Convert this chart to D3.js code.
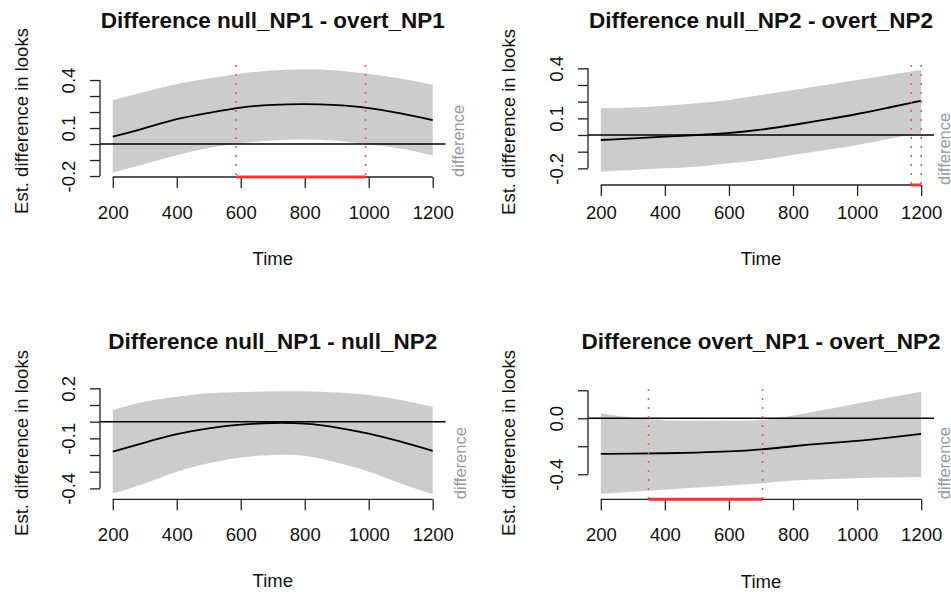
<!DOCTYPE html>
<html>
<head>
<meta charset="utf-8">
<script src="https://cdn.jsdelivr.net/npm/d3@7"></script>
<style>
  html, body { margin: 0; padding: 0; background: #fff; }
  svg { display: block; font-family: "Liberation Sans", Arial, Helvetica, sans-serif; }
</style>
</head>
<body>
<svg id="chart" width="951" height="592"></svg>
<script>
// ---------------- DATA ----------------
const times = [200, 300, 400, 500, 600, 700, 800, 900, 1000, 1100, 1200];
const xTicks = [200, 400, 600, 800, 1000, 1200];

// Panel 1: null_NP1 - overt_NP1
const fit1   = [0.046, 0.100, 0.155, 0.195, 0.228, 0.245, 0.250, 0.243, 0.225, 0.192, 0.150];
const upper1 = [0.275, 0.327, 0.375, 0.410, 0.440, 0.460, 0.467, 0.460, 0.440, 0.410, 0.370];
const lower1 = [-0.178, -0.125, -0.070, -0.025, 0.005, 0.022, 0.028, 0.020, -0.002, -0.028, -0.072];
const sig1 = [585, 990];
const yTicks1 = [-0.2, -0.1, 0, 0.1, 0.2, 0.3, 0.4];
const yTickLabels1 = ["-0.2", "", "", "0.1", "", "", "0.4"];

// Panel 2: null_NP2 - overt_NP2
const fit2   = [-0.030, -0.020, -0.010, 0.000, 0.012, 0.032, 0.060, 0.092, 0.126, 0.165, 0.205];
const upper2 = [0.160, 0.165, 0.175, 0.190, 0.210, 0.240, 0.270, 0.300, 0.330, 0.360, 0.390];
const lower2 = [-0.220, -0.210, -0.200, -0.190, -0.170, -0.150, -0.120, -0.090, -0.060, -0.022, 0.008];
const sig2 = [1169, 1200];
const yTicks2 = [-0.2, -0.1, 0, 0.1, 0.2, 0.3, 0.4];
const yTickLabels2 = ["-0.2", "", "", "0.1", "", "", "0.4"];

// Panel 3: null_NP1 - null_NP2
const fit3   = [-0.180, -0.125, -0.075, -0.040, -0.018, -0.008, -0.012, -0.035, -0.072, -0.120, -0.175];
const upper3 = [0.070, 0.120, 0.150, 0.170, 0.178, 0.182, 0.182, 0.175, 0.160, 0.130, 0.090];
const lower3 = [-0.430, -0.370, -0.300, -0.250, -0.215, -0.200, -0.205, -0.245, -0.300, -0.370, -0.435];
const sig3 = null;
const yTicks3 = [-0.4, -0.3, -0.2, -0.1, 0, 0.1, 0.2];
const yTickLabels3 = ["-0.4", "", "", "-0.1", "", "", "0.2"];

// Panel 4: overt_NP1 - overt_NP2
const fit4   = [-0.255, -0.253, -0.250, -0.245, -0.237, -0.222, -0.200, -0.180, -0.162, -0.138, -0.112];
const upper4 = [0.036, 0.003, -0.015, -0.017, -0.017, -0.013, 0.020, 0.060, 0.105, 0.148, 0.190];
const lower4 = [-0.540, -0.525, -0.510, -0.495, -0.480, -0.465, -0.445, -0.435, -0.428, -0.424, -0.420];
const sig4 = [349, 705];
const yTicks4 = [-0.4, -0.2, 0, 0.2];
const yTickLabels4 = ["-0.4", "", "0.0", ""];

const titles = [
  "Difference null_NP1 - overt_NP1",
  "Difference null_NP2 - overt_NP2",
  "Difference null_NP1 - null_NP2",
  "Difference overt_NP1 - overt_NP2"
];
const xLabel = "Time";
const yLabel = "Est. difference in looks";
const sideLabel = "difference";

// ---------------- LAYOUT ----------------
const panels = [
  { title: titles[0], fit: fit1, upper: upper1, lower: lower1, sig: sig1, yTicks: yTicks1, yLabels: yTickLabels1,
    box: { l: 100, r: 445.5, t: 65, b: 177 }, yDom: [-0.206, 0.494],
    titleY: 20.5, xLabY: 212, timeY: 258, ylabX: 21, ylabY: 121, sideX: 458 },
  { title: titles[1], fit: fit2, upper: upper2, lower: lower2, sig: sig2, yTicks: yTicks2, yLabels: yTickLabels2,
    box: { l: 588, r: 934, t: 65, b: 185 }, yDom: [-0.30, 0.42],
    titleY: 20.5, xLabY: 212, timeY: 258, ylabX: 508, ylabY: 122, sideX: 943.5 },
  { title: titles[2], fit: fit3, upper: upper3, lower: lower3, sig: sig3, yTicks: yTicks3, yLabels: yTickLabels3,
    box: { l: 100, r: 445.5, t: 387, b: 499.3 }, yDom: [-0.4655, 0.208],
    titleY: 341.7, xLabY: 535, timeY: 580, ylabX: 21.5, ylabY: 443, sideX: 460 },
  { title: titles[3], fit: fit4, upper: upper4, lower: lower4, sig: sig4, yTicks: yTicks4, yLabels: yTickLabels4,
    box: { l: 588, r: 934, t: 389, b: 499.3 }, yDom: [-0.579, 0.209],
    titleY: 341.7, xLabY: 535, timeY: 581, ylabX: 508, ylabY: 443, sideX: 943.5 }
];

const svg = d3.select("#chart");
svg.append("rect").attr("width", 951).attr("height", 592).attr("fill", "#fff");

const FS = 18.5;

panels.forEach(p => {
  const x = d3.scaleLinear().domain([160, 1240]).range([p.box.l, p.box.r]);
  const y = d3.scaleLinear().domain(p.yDom).range([p.box.b, p.box.t]);
  const g = svg.append("g");
  const rows = times.map((t, i) => ({ t, f: p.fit[i], u: p.upper[i], lo: p.lower[i] }));

  // confidence band
  const area = d3.area().x(d => x(d.t)).y0(d => y(d.lo)).y1(d => y(d.u)).curve(d3.curveNatural);
  g.append("path").datum(rows).attr("d", area).attr("fill", "#cccccc");

  // fitted difference
  const line = d3.line().x(d => x(d.t)).y(d => y(d.f)).curve(d3.curveNatural);
  g.append("path").datum(rows).attr("d", line).attr("fill", "none")
    .attr("stroke", "#000").attr("stroke-width", 1.8);

  // zero line
  g.append("line").attr("x1", p.box.l).attr("x2", p.box.r)
    .attr("y1", y(0)).attr("y2", y(0)).attr("stroke", "#000").attr("stroke-width", 1.4);

  // x axis
  const xa = g.append("g").attr("transform", `translate(0,${p.box.b})`)
    .call(d3.axisBottom(x).tickValues(xTicks).tickFormat(d3.format("d"))
      .tickSize(11).tickSizeOuter(0).tickPadding(0));
  xa.select(".domain").attr("d", `M${x(xTicks[0])},0H${x(xTicks[xTicks.length - 1])}`);
  xa.selectAll("path, line").attr("stroke", "#222").attr("stroke-width", 1.3);
  xa.selectAll(".tick text").attr("y", p.xLabY - p.box.b).attr("dy", null)
    .attr("dominant-baseline", "central").attr("font-size", FS).attr("fill", "#111")
    .style("font-family", "Liberation Sans, Arial, sans-serif");

  // y axis
  const ya = g.append("g").attr("transform", `translate(${p.box.l},0)`)
    .call(d3.axisLeft(y).tickValues(p.yTicks).tickFormat((d, i) => p.yLabels[i]).tickSize(10).tickSizeOuter(0));
  ya.select(".domain").attr("d", `M0,${y(d3.min(p.yTicks))}V${y(d3.max(p.yTicks))}`);
  ya.selectAll("path, line").attr("stroke", "#222").attr("stroke-width", 1.3);
  ya.selectAll(".tick text").attr("x", 0).attr("dy", null)
    .attr("text-anchor", "middle").attr("dominant-baseline", "central")
    .attr("transform", "translate(-32,0) rotate(-90)")
    .attr("font-size", FS).attr("fill", "#111")
    .style("font-family", "Liberation Sans, Arial, sans-serif");

  // significance markers
  if (p.sig) {
    p.sig.forEach(s => {
      g.append("line").attr("x1", x(s)).attr("x2", x(s)).attr("y1", p.box.t).attr("y2", p.box.b)
        .attr("stroke", "#e06060").attr("stroke-width", 1.6).attr("stroke-dasharray", "2,7");
    });
    g.append("line").attr("x1", x(p.sig[0])).attr("x2", x(p.sig[1]))
      .attr("y1", p.box.b).attr("y2", p.box.b)
      .attr("stroke", "#e83a3a").attr("stroke-width", 3);
  }

  // title
  const cx = (p.box.l + p.box.r) / 2;
  g.append("text").attr("x", cx).attr("y", p.titleY).attr("text-anchor", "middle")
    .attr("dominant-baseline", "central").attr("font-weight", "bold").attr("font-size", 22.5)
    .attr("fill", "#111").text(p.title);

  // x label
  g.append("text").attr("x", cx).attr("y", p.timeY).attr("text-anchor", "middle")
    .attr("dominant-baseline", "central").attr("font-size", FS).attr("fill", "#111").text(xLabel);

  // y label
  g.append("text").attr("transform", `translate(${p.ylabX},${p.ylabY}) rotate(-90)`)
    .attr("text-anchor", "middle").attr("dominant-baseline", "central")
    .attr("font-size", FS).attr("fill", "#111").text(yLabel);

  // side label
  g.append("text").attr("transform", `translate(${p.sideX},${p.box.b}) rotate(-90)`)
    .attr("text-anchor", "start").attr("dominant-baseline", "central")
    .attr("font-size", 16.5).attr("fill", "#999").text(sideLabel);
});
</script>
</body>
</html>
